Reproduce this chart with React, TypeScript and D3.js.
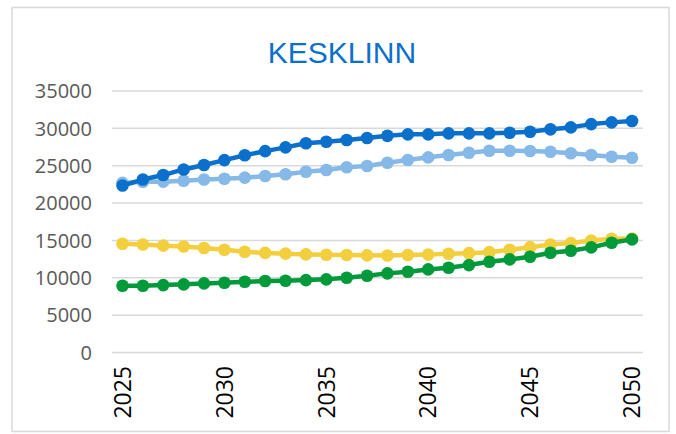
import React, { useEffect, useRef } from "react";
import * as d3 from "d3";

const years: number[] = [
  2025, 2026, 2027, 2028, 2029, 2030, 2031, 2032, 2033, 2034, 2035, 2036, 2037,
  2038, 2039, 2040, 2041, 2042, 2043, 2044, 2045, 2046, 2047, 2048, 2049, 2050,
];

const lightBlue: number[] = [
  22700, 22850, 22870, 22990, 23150, 23250, 23400, 23620, 23850, 24200, 24430, 24790, 24960,
  25400, 25760, 26120, 26430, 26740, 27000, 27000, 26970, 26870, 26660, 26430, 26200, 26070,
];

const darkBlue: number[] = [
  22350, 23150, 23750, 24500, 25100, 25750, 26400, 26950, 27450, 28000, 28200, 28450, 28700,
  29000, 29200, 29200, 29330, 29330, 29330, 29410, 29550, 29870, 30130, 30570, 30800, 30980,
];

const yellow: number[] = [
  14550, 14450, 14300, 14180, 13980, 13760, 13480, 13330, 13230, 13130, 13080, 13050, 13000,
  12990, 13050, 13100, 13220, 13300, 13430, 13750, 14100, 14460, 14640, 15000, 15230, 15250,
];

const green: number[] = [
  8930, 8930, 9020, 9120, 9250, 9330, 9460, 9560, 9600, 9690, 9790, 10000, 10270,
  10590, 10800, 11120, 11340, 11700, 12140, 12460, 12810, 13350, 13610, 14070, 14690, 15140,
];

const yTicks: number[] = [0, 5000, 10000, 15000, 20000, 25000, 30000, 35000];
const xTickYears: number[] = [2025, 2030, 2035, 2040, 2045, 2050];
const title = "KESKLINN";

const seriesList = [
  { name: "lightBlue", values: lightBlue, color: "#86B9E8" },
  { name: "darkBlue", values: darkBlue, color: "#0A70CC" },
  { name: "yellow", values: yellow, color: "#F3CF3E" },
  { name: "green", values: green, color: "#009A3B" },
];

export default function App() {
  const ref = useRef<SVGSVGElement | null>(null);

  useEffect(() => {
    const svg = d3.select(ref.current);
    svg.selectAll("*").remove();

    const W = 676;
    const H = 434;
    const x = d3.scalePoint<number>().domain(years).range([122.5, 632]);
    const y = d3.scaleLinear().domain([0, 35000]).range([352.5, 91]);
    const gridX0 = 112;
    const gridX1 = 643;

    svg.append("rect").attr("x", 0).attr("y", 0).attr("width", W).attr("height", H).attr("fill", "#fff");
    svg
      .append("rect")
      .attr("x", 12)
      .attr("y", 7.5)
      .attr("width", 657)
      .attr("height", 424)
      .attr("fill", "#fff")
      .attr("stroke", "#D9D9D9")
      .attr("stroke-width", 1.5);

    svg
      .append("text")
      .attr("x", 342)
      .attr("y", 63)
      .attr("text-anchor", "middle")
      .attr("font-family", "'Liberation Sans', Arial, sans-serif")
      .attr("font-size", 30)
      .attr("fill", "#0A70CC")
      .text(title);

    const grid = svg.append("g");
    grid
      .selectAll("line")
      .data(yTicks)
      .join("line")
      .attr("x1", gridX0)
      .attr("x2", gridX1)
      .attr("y1", (d) => y(d))
      .attr("y2", (d) => y(d))
      .attr("stroke", "#D9D9D9")
      .attr("stroke-width", 1.5);

    svg
      .append("g")
      .selectAll("text")
      .data(yTicks)
      .join("text")
      .attr("x", 92)
      .attr("y", (d) => y(d))
      .attr("dy", "0.36em")
      .attr("text-anchor", "end")
      .attr("font-family", "'Open Sans', sans-serif")
      .attr("font-size", 20)
      .attr("fill", "#595959")
      .text((d) => String(d));

    svg
      .append("g")
      .selectAll("text")
      .data(xTickYears)
      .join("text")
      .attr("transform", (d) => `translate(${x(d)},${366}) rotate(-90)`)
      .attr("dy", "0.36em")
      .attr("text-anchor", "end")
      .attr("font-family", "'Open Sans', sans-serif")
      .attr("font-size", 23)
      .attr("fill", "#000")
      .text((d) => String(d));

    const line = d3
      .line<number>()
      .x((_, i) => x(years[i]) as number)
      .y((d) => y(d));

    seriesList.forEach((s) => {
      const g = svg.append("g");
      g.append("path")
        .attr("d", line(s.values))
        .attr("fill", "none")
        .attr("stroke", s.color)
        .attr("stroke-width", 4.5)
        .attr("stroke-linejoin", "round")
        .attr("stroke-linecap", "round");
      g.selectAll("circle")
        .data(s.values)
        .join("circle")
        .attr("cx", (_, i) => x(years[i]) as number)
        .attr("cy", (d) => y(d))
        .attr("r", 6.3)
        .attr("fill", s.color);
    });
  }, []);

  return (
    <svg
      ref={ref}
      width={676}
      height={434}
      style={{ position: "absolute", left: 0, top: 0, display: "block" }}
    />
  );
}
